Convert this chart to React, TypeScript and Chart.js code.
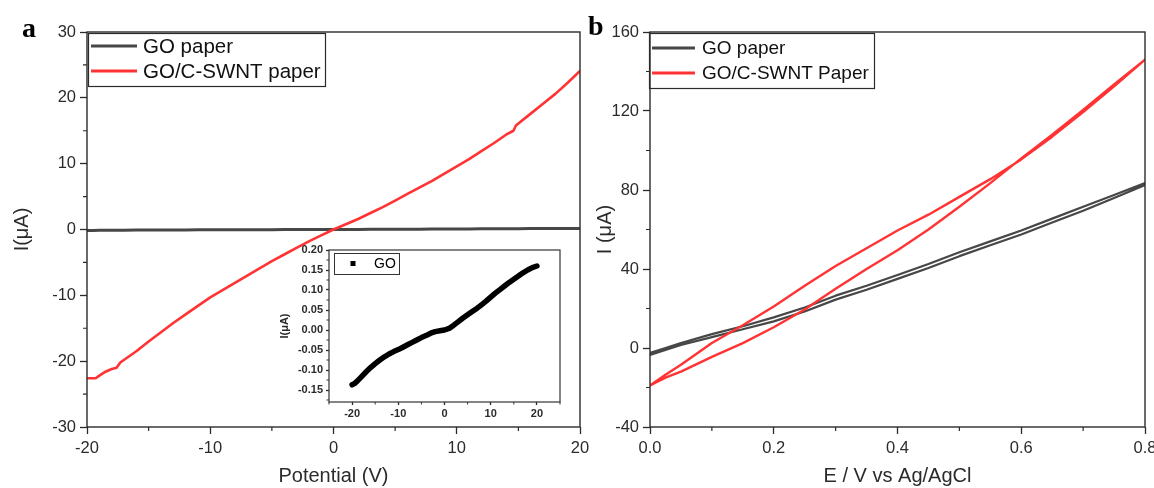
import React, { useEffect, useRef } from 'react';
import { Chart, registerables } from 'chart.js';

Chart.register(...registerables);

const SANS = '"Liberation Sans", Arial, Helvetica, sans-serif';
const SERIF = '"Liberation Serif", "Times New Roman", serif';
const INK = '#2b2b2b';
const RED = '#ff3333';
const GREY = '#474747';

// ---- Panel a: I–V sweep of the GO/C-SWNT paper (µA vs V)
const sweepPotential = [
  -20, -19.3, -19, -18.5, -18, -17.6, -17.3, -16, -15, -14, -13, -12, -11, -10, -9, -8, -7, -6, -5, -4, -3, -2,
  -1, 0, 1, 2, 3, 4, 5, 6, 7, 8, 9, 10, 11, 12, 13, 14, 14.6, 14.8, 15, 16, 17, 18, 19, 20,
];
const hybridCurrent = [
  -22.6, -22.6, -22.2, -21.6, -21.2, -21.0, -20.2, -18.5, -17.0, -15.6, -14.2, -12.9, -11.6, -10.3, -9.2, -8.1,
  -7.0, -5.9, -4.8, -3.8, -2.8, -1.8, -0.9, 0, 0.8, 1.6, 2.5, 3.4, 4.4, 5.4, 6.4, 7.4, 8.5, 9.6, 10.7, 11.9, 13.1,
  14.4, 15.0, 15.8, 16.1, 17.6, 19.1, 20.6, 22.3, 24.1,
];

// ---- GO paper sweep (flat on panel a, magnified in the inset)
const goPotential = [
  -20, -19.5, -19, -18, -17, -16, -15, -14, -13, -12, -11, -10, -9, -8, -7, -6, -5, -4, -3, -2, -1, 0, 1, 2, 3, 4,
  5, 6, 7, 8, 9, 10, 11, 12, 13, 14, 15, 16, 17, 18, 19, 20,
];
const goCurrent = [
  -0.137, -0.134, -0.129, -0.117, -0.105, -0.094, -0.084, -0.075, -0.067, -0.06, -0.054, -0.049, -0.043, -0.037,
  -0.031, -0.025, -0.019, -0.014, -0.008, -0.004, -0.002, 0.0, 0.004, 0.012, 0.021, 0.03, 0.038, 0.046, 0.054,
  0.063, 0.072, 0.082, 0.092, 0.101, 0.11, 0.119, 0.127, 0.135, 0.143, 0.15, 0.156, 0.16,
];

// ---- Panel b: cyclic voltammograms (µA vs V vs Ag/AgCl), both sweeps on one potential grid
const scanPotential = [0, 0.025, 0.05, 0.1, 0.15, 0.2, 0.25, 0.3, 0.35, 0.4, 0.45, 0.5, 0.55, 0.6, 0.65, 0.7, 0.75, 0.8];
const goForward = [-3.5, -1, 1.5, 5.5, 9.5, 13.5, 18.5, 24.5, 29.5, 35, 40.5, 46.5, 52, 57.5, 63.5, 69.5, 76, 82.5];
const goReverse = [-2.5, 0, 2.5, 7, 11, 15.5, 20.5, 26.5, 31.5, 37, 42.5, 48.5, 54, 59.5, 65.5, 71.5, 77.5, 83.5];
const hybridForward = [-19, -15, -12, -4.5, 2.5, 10.5, 19.5, 30, 40, 49.5, 60, 71.5, 83.5, 96, 108, 120.5, 133.5, 146];
const hybridReverse = [-19, -13.5, -8.5, 2.5, 11.5, 21, 31.5, 41.5, 50.5, 59.5, 67.5, 76.5, 85.5, 95.5, 107, 119.5, 132.5, 146];

// ---- tick labels
const ticksA_X = [-20, -10, 0, 10, 20];
const ticksA_Y = [-30, -20, -10, 0, 10, 20, 30];
const ticksB_X = [0, 0.2, 0.4, 0.6, 0.8];
const ticksB_Y = [-40, 0, 40, 80, 120, 160];
const ticksInset_X = [-20, -10, 0, 10, 20];
const ticksInset_Y = [-0.15, -0.1, -0.05, 0, 0.05, 0.1, 0.15, 0.2];

const pairs = (xs: number[], ys: number[]) => xs.map((x, i) => ({ x, y: ys[i] }));
const loop = (xs: number[], fwd: number[], rev: number[]) =>
  pairs(xs, fwd).concat(pairs(xs, rev).reverse());

// Box around the plot area plus short minor ticks between the labelled ones
const framePlugin = {
  id: 'frame',
  afterDatasetsDraw(chart: any, _args: any, o: any) {
    const { ctx, chartArea, scales } = chart;
    const { left, right, top, bottom } = chartArea;
    ctx.save();
    ctx.strokeStyle = o.color;
    ctx.lineWidth = o.width;
    ctx.strokeRect(left, top, right - left, bottom - top);
    ctx.lineWidth = o.minorWidth;
    ctx.beginPath();
    const minor = (scale: any, step: number, draw: (p: number) => void) => {
      const majors = scale.ticks.map((t: any) => t.value);
      const k0 = Math.ceil(scale.min / step - 1e-6);
      const k1 = Math.floor(scale.max / step + 1e-6);
      for (let k = k0; k <= k1; k++) {
        const v = k * step;
        if (majors.some((m: number) => Math.abs(m - v) < step * 1e-3)) continue;
        draw(scale.getPixelForValue(v));
      }
    };
    minor(scales.x, o.minorX, (p) => {
      ctx.moveTo(p, bottom);
      ctx.lineTo(p, bottom + o.minorLen);
    });
    minor(scales.y, o.minorY, (p) => {
      ctx.moveTo(left, p);
      ctx.lineTo(left - o.minorLen, p);
    });
    ctx.stroke();
    ctx.restore();
  },
};

// Legend inside a thin rectangle, one row per dataset
const boxedLegendPlugin = {
  id: 'boxedLegend',
  afterDraw(chart: any, _args: any, o: any) {
    const { ctx } = chart;
    const [bx, by, bw, bh] = o.box;
    ctx.save();
    ctx.strokeStyle = o.borderColor;
    ctx.lineWidth = o.borderWidth;
    ctx.strokeRect(bx, by, bw, bh);
    ctx.font = o.font;
    ctx.textBaseline = 'middle';
    chart.data.datasets.forEach((ds: any, i: number) => {
      const y = o.rows[i];
      if (o.marker === 'square') {
        ctx.fillStyle = ds.borderColor;
        ctx.fillRect(o.sample[0] - 2.5, y - 2.5, 5, 5);
      } else {
        ctx.strokeStyle = ds.borderColor;
        ctx.lineWidth = o.sampleWidth;
        ctx.beginPath();
        ctx.moveTo(o.sample[0], y);
        ctx.lineTo(o.sample[1], y);
        ctx.stroke();
      }
      ctx.fillStyle = o.textColor;
      ctx.fillText(ds.label, o.textX, y + 1);
    });
    ctx.restore();
  },
};

// Bold panel letter
const panelTagPlugin = {
  id: 'panelTag',
  afterDraw(chart: any, _args: any, o: any) {
    if (!o || !o.text) return;
    const { ctx } = chart;
    ctx.save();
    ctx.font = o.font;
    ctx.fillStyle = '#000';
    ctx.textBaseline = 'alphabetic';
    ctx.fillText(o.text, o.x, o.y);
    ctx.restore();
  },
};

type AxisSpec = {
  min: number;
  max: number;
  ticks: number[];
  digits: number;
  size: number;
  title?: string;
  titleFont?: any;
  titlePad?: number;
  tickFont: any;
  tickLen: number;
  tickPad: number;
  horizontal: boolean;
};

function makeAxis(s: AxisSpec) {
  return {
    type: 'linear',
    min: s.min,
    max: s.max,
    border: { display: false },
    grid: {
      drawOnChartArea: false,
      drawTicks: true,
      tickLength: s.tickLen,
      tickColor: INK,
      tickWidth: 1.3,
    },
    ticks: {
      font: s.tickFont,
      color: INK,
      padding: s.tickPad,
      maxRotation: 0,
      autoSkip: false,
      callback: (v: number) => Number(v).toFixed(s.digits),
    },
    afterBuildTicks: (scale: any) => {
      scale.ticks = s.ticks.map((value) => ({ value }));
    },
    afterFit: (scale: any) => {
      if (s.horizontal) {
        scale.height = s.size;
        scale.paddingLeft = 0;
        scale.paddingRight = 0;
      } else {
        scale.width = s.size;
        scale.paddingTop = 0;
        scale.paddingBottom = 0;
      }
    },
    title: s.title
      ? {
          display: true,
          text: s.title,
          font: s.titleFont,
          color: INK,
          padding: s.horizontal ? { top: 0, bottom: s.titlePad } : { top: s.titlePad, bottom: 0 },
        }
      : { display: false },
  };
}

const TICK_FONT = { family: SANS, size: 16.5 };
const TITLE_FONT = { family: SANS, size: 20 };
const INSET_TICK_FONT = { family: SANS, size: 11, weight: 'bold' };

const baseOptions = (padding: any) => ({
  responsive: false,
  animation: false,
  events: [],
  layout: { padding },
  elements: { point: { radius: 0 }, line: { tension: 0, borderCapStyle: 'round', borderJoinStyle: 'round' } },
});

function configA() {
  return {
    type: 'line',
    data: {
      datasets: [
        { label: 'GO paper', data: pairs(goPotential, goCurrent), borderColor: GREY, borderWidth: 3, order: 1 },
        { label: 'GO/C-SWNT paper', data: pairs(sweepPotential, hybridCurrent), borderColor: RED, borderWidth: 2.6, order: 0 },
      ],
    },
    options: {
      ...baseOptions({ top: 32, right: 12, left: 0, bottom: 0 }),
      plugins: {
        legend: { display: false },
        tooltip: { enabled: false },
        frame: { color: INK, width: 1.4, minorWidth: 1.2, minorLen: 4, minorX: 5, minorY: 5 },
        boxedLegend: {
          box: [88.5, 33.5, 237, 53],
          rows: [46, 71],
          sample: [91, 137],
          sampleWidth: 3,
          textX: 143,
          font: `20.5px ${SANS}`,
          textColor: '#111',
          borderColor: INK,
          borderWidth: 1.2,
        },
        panelTag: { text: 'a', x: 22, y: 37, font: `bold 28px ${SERIF}` },
      },
      scales: {
        x: makeAxis({
          min: -20, max: 20, ticks: ticksA_X, digits: 0, size: 61, horizontal: true,
          title: 'Potential (V)', titleFont: TITLE_FONT, titlePad: 0, tickFont: TICK_FONT, tickLen: 7, tickPad: 5,
        }),
        y: makeAxis({
          min: -30, max: 30, ticks: ticksA_Y, digits: 0, size: 87, horizontal: false,
          title: 'I(\u03bcA)', titleFont: TITLE_FONT, titlePad: 10, tickFont: TICK_FONT, tickLen: 7, tickPad: 4,
        }),
      },
    },
    plugins: [framePlugin, boxedLegendPlugin, panelTagPlugin],
  };
}

function configInset() {
  return {
    type: 'line',
    data: {
      datasets: [
        { label: 'GO', data: pairs(goPotential, goCurrent), borderColor: '#000', borderWidth: 5.5 },
      ],
    },
    options: {
      ...baseOptions({ top: 8, right: 10, left: 0, bottom: 0 }),
      plugins: {
        legend: { display: false },
        tooltip: { enabled: false },
        frame: { color: '#333', width: 1.2, minorWidth: 1, minorLen: 2.5, minorX: 5, minorY: 0.025 },
        boxedLegend: {
          box: [62.5, 11.5, 65, 21],
          rows: [21.5],
          sample: [81, 81],
          marker: 'square',
          textX: 102,
          font: `14px ${SANS}`,
          textColor: '#000',
          borderColor: '#333',
          borderWidth: 1,
        },
      },
      scales: {
        x: makeAxis({
          min: -25, max: 25, ticks: ticksInset_X, digits: 0, size: 20, horizontal: true,
          tickFont: INSET_TICK_FONT, tickLen: 3, tickPad: 2,
        }),
        y: makeAxis({
          min: -0.18, max: 0.2, ticks: ticksInset_Y, digits: 2, size: 57, horizontal: false,
          title: 'I(\u03bcA)', titleFont: { family: SANS, size: 11, weight: 'bold' }, titlePad: 6,
          tickFont: INSET_TICK_FONT, tickLen: 3, tickPad: 3,
        }),
      },
    },
    plugins: [framePlugin, boxedLegendPlugin],
  };
}

function configB() {
  return {
    type: 'line',
    data: {
      datasets: [
        { label: 'GO paper', data: loop(scanPotential, goForward, goReverse), borderColor: GREY, borderWidth: 2.2, order: 1 },
        { label: 'GO/C-SWNT Paper', data: loop(scanPotential, hybridForward, hybridReverse), borderColor: RED, borderWidth: 2.4, order: 0 },
      ],
    },
    options: {
      ...baseOptions({ top: 32, right: 9, left: 0, bottom: 0 }),
      plugins: {
        legend: { display: false },
        tooltip: { enabled: false },
        frame: { color: INK, width: 1.4, minorWidth: 1.2, minorLen: 4, minorX: 0.1, minorY: 20 },
        boxedLegend: {
          box: [65.5, 33.5, 225, 55],
          rows: [48, 73],
          sample: [68, 111],
          sampleWidth: 3,
          textX: 118,
          font: `19px ${SANS}`,
          textColor: '#111',
          borderColor: INK,
          borderWidth: 1.2,
        },
        panelTag: { text: 'b', x: 4, y: 35, font: `bold 28px ${SERIF}` },
      },
      scales: {
        x: makeAxis({
          min: 0, max: 0.8, ticks: ticksB_X, digits: 1, size: 61, horizontal: true,
          title: 'E / V vs Ag/AgCl', titleFont: TITLE_FONT, titlePad: 0, tickFont: TICK_FONT, tickLen: 7, tickPad: 5,
        }),
        y: makeAxis({
          min: -40, max: 160, ticks: ticksB_Y, digits: 0, size: 66, horizontal: false,
          title: 'I (\u03bcA)', titleFont: TITLE_FONT, titlePad: 9, tickFont: TICK_FONT, tickLen: 7, tickPad: 4,
        }),
      },
    },
    plugins: [framePlugin, boxedLegendPlugin, panelTagPlugin],
  };
}

function ChartCanvas(props: { left: number; top: number; width: number; height: number; build: () => any }) {
  const ref = useRef<HTMLCanvasElement | null>(null);
  useEffect(() => {
    if (!ref.current) return;
    const chart = new Chart(ref.current, props.build());
    return () => chart.destroy();
  }, []);
  return (
    <canvas
      ref={ref}
      width={props.width}
      height={props.height}
      style={{ position: 'absolute', left: props.left, top: props.top, width: props.width, height: props.height }}
    />
  );
}

export default function App() {
  return (
    <div style={{ position: 'fixed', left: 0, top: 0, width: 1154, height: 488, background: '#fff', overflow: 'hidden' }}>
      <ChartCanvas left={0} top={0} width={592} height={488} build={configA} />
      <ChartCanvas left={272} top={242} width={298} height={180} build={configInset} />
      <ChartCanvas left={584} top={0} width={570} height={488} build={configB} />
    </div>
  );
}
